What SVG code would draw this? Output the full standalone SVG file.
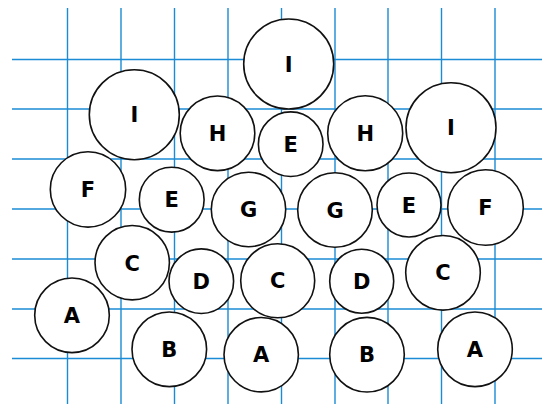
<svg xmlns="http://www.w3.org/2000/svg" width="542" height="406" viewBox="0 0 542 406">
<style>
.g line{stroke:#1b8bd6;stroke-width:1.4}
.n circle{fill:#fff;stroke:#111;stroke-width:1.6}
.n text{font-family:"DejaVu Sans",sans-serif;font-weight:bold;font-size:21px;text-anchor:middle;fill:#000}
</style>
<rect width="542" height="406" fill="#fff"/>
<g id="grid" class="g">
<line x1="67.5" y1="8" x2="67.5" y2="404"/>
<line x1="121" y1="8" x2="121" y2="404"/>
<line x1="174.5" y1="8" x2="174.5" y2="404"/>
<line x1="228" y1="8" x2="228" y2="404"/>
<line x1="281.5" y1="8" x2="281.5" y2="404"/>
<line x1="335" y1="8" x2="335" y2="404"/>
<line x1="388" y1="8" x2="388" y2="404"/>
<line x1="441.5" y1="8" x2="441.5" y2="404"/>
<line x1="495" y1="8" x2="495" y2="404"/>
<line x1="12" y1="59.5" x2="542" y2="59.5"/>
<line x1="12" y1="109" x2="542" y2="109"/>
<line x1="12" y1="159" x2="542" y2="159"/>
<line x1="12" y1="209" x2="542" y2="209"/>
<line x1="12" y1="259" x2="542" y2="259"/>
<line x1="12" y1="309" x2="542" y2="309"/>
<line x1="12" y1="358.5" x2="542" y2="358.5"/>
</g>
<g id="I1" class="n"><circle cx="288.7" cy="64" r="45"/><text x="288.7" y="71.6">I</text></g>
<g id="I2" class="n"><circle cx="134.3" cy="114.7" r="45"/><text x="134.3" y="122.3">I</text></g>
<g id="I3" class="n"><circle cx="451" cy="127.7" r="45"/><text x="451" y="135.3">I</text></g>
<g id="H1" class="n"><circle cx="217.5" cy="133.3" r="37.3"/><text x="217.5" y="140.9">H</text></g>
<g id="H2" class="n"><circle cx="365.2" cy="133.3" r="37.5"/><text x="365.2" y="140.9">H</text></g>
<g id="E1" class="n"><circle cx="290.7" cy="144.2" r="32.3"/><text x="290.7" y="151.8">E</text></g>
<g id="F1" class="n"><circle cx="88" cy="189.4" r="37.7"/><text x="88" y="197">F</text></g>
<g id="E2" class="n"><circle cx="171.7" cy="199.7" r="32.4"/><text x="171.7" y="207.3">E</text></g>
<g id="G1" class="n"><circle cx="248.5" cy="209.5" r="37.2"/><text x="248.5" y="217.1">G</text></g>
<g id="G2" class="n"><circle cx="335" cy="210" r="37.3"/><text x="335" y="217.6">G</text></g>
<g id="E3" class="n"><circle cx="409" cy="205" r="32"/><text x="409" y="212.6">E</text></g>
<g id="F2" class="n"><circle cx="485.5" cy="207.5" r="37.8"/><text x="485.5" y="215.1">F</text></g>
<g id="C1" class="n"><circle cx="132.2" cy="262.7" r="37.2"/><text x="132.2" y="270.6">C</text></g>
<g id="D1" class="n"><circle cx="201.3" cy="281.2" r="32.3"/><text x="201.3" y="288.8">D</text></g>
<g id="C2" class="n"><circle cx="277.7" cy="280.8" r="37"/><text x="277.7" y="288.4">C</text></g>
<g id="D2" class="n"><circle cx="361.7" cy="281.2" r="32"/><text x="361.7" y="288.8">D</text></g>
<g id="C3" class="n"><circle cx="443" cy="272.8" r="37.3"/><text x="443" y="280.4">C</text></g>
<g id="A1" class="n"><circle cx="72" cy="315.3" r="37.3"/><text x="72" y="322.9">A</text></g>
<g id="B1" class="n"><circle cx="169.3" cy="349.3" r="37.3"/><text x="169.3" y="356.9">B</text></g>
<g id="A2" class="n"><circle cx="261.2" cy="354.7" r="37.2"/><text x="261.2" y="362.3">A</text></g>
<g id="B2" class="n"><circle cx="367" cy="354.7" r="37.3"/><text x="367" y="362.3">B</text></g>
<g id="A3" class="n"><circle cx="475" cy="349.3" r="37.3"/><text x="475" y="356.9">A</text></g>
</svg>
